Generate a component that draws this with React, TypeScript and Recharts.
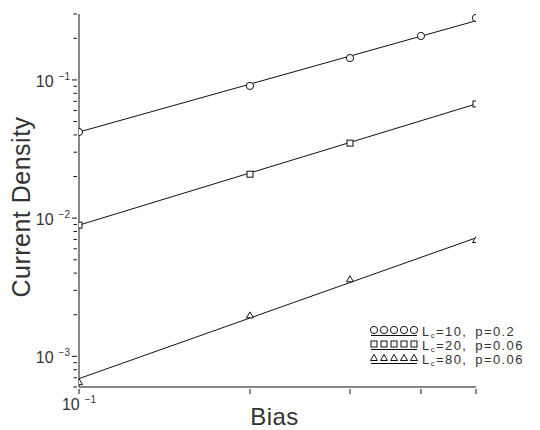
import React from 'react'
import { ComposedChart, Line, Scatter, XAxis, YAxis, Label } from 'recharts'

// bias values (V) where the simulation was run
const biasLc10 = [0.1, 0.2, 0.3, 0.4, 0.5]
const densityLc10 = [0.042, 0.0905, 0.144, 0.208, 0.281]

const biasLc20 = [0.1, 0.2, 0.3, 0.5]
const densityLc20 = [0.0089, 0.0208, 0.0349, 0.067]

const biasLc80 = [0.1, 0.2, 0.3, 0.5]
const densityLc80 = [0.00065, 0.00198, 0.00361, 0.00694]

// power-law fits, evaluated at the ends of the bias range
const fitBias = [0.1, 0.5]
const fitLc10 = [0.042, 0.268]
const fitLc20 = [0.0089, 0.067]
const fitLc80 = [0.00069, 0.0072]

const xTicks = [0.1, 0.2, 0.3, 0.4, 0.5]
const yTicks = [
  0.0006, 0.0007, 0.0008, 0.0009,
  0.001, 0.002, 0.003, 0.004, 0.005, 0.006, 0.007, 0.008, 0.009,
  0.01, 0.02, 0.03, 0.04, 0.05, 0.06, 0.07, 0.08, 0.09,
  0.1, 0.2, 0.3,
]

const legendRows = [
  { shape: 'circle', lc: '10', p: '0.2' },
  { shape: 'square', lc: '20', p: '0.06' },
  { shape: 'triangle', lc: '80', p: '0.06' },
]

const FONT = '"Liberation Sans", Arial, sans-serif'
const INK = '#111'

const toPoints = (xs: number[], ys: number[]) => xs.map((x, i) => ({ x, y: ys[i] }))

const isDecade = (v: number) => Math.abs(Math.log10(v) - Math.round(Math.log10(v))) < 1e-6

function Marker({ kind, cx, cy }: { kind: string; cx: number; cy: number }) {
  if (kind === 'circle') {
    return <circle cx={cx} cy={cy} r={3.6} fill="white" stroke={INK} strokeWidth={1} />
  }
  if (kind === 'square') {
    return <rect x={cx - 3} y={cy - 3} width={6} height={6} fill="white" stroke={INK} strokeWidth={1} />
  }
  return (
    <path
      d={`M${cx},${cy - 3.5} L${cx + 3.5},${cy + 2.5} L${cx - 3.5},${cy + 2.5} Z`}
      fill="white"
      stroke={INK}
      strokeWidth={1}
    />
  )
}

function PowerTenLabel({ x, y, anchor, exp }: { x: number; y: number; anchor: 'end' | 'middle'; exp: number }) {
  return (
    <text x={x} y={y} textAnchor={anchor} fontFamily={FONT} fontSize={16} fill="#333">
      10
      <tspan dx={5} dy={-7} fontSize={10}>{`−${Math.abs(exp)}`}</tspan>
    </text>
  )
}

function YTick(props: any) {
  const { x, y, payload } = props
  const major = isDecade(payload.value)
  return (
    <g>
      <line x1={x - (major ? 5 : 3.5)} x2={x} y1={y} y2={y} stroke={INK} strokeWidth={1} />
      {major && <PowerTenLabel x={x - 7} y={y + 7} anchor="end" exp={Math.round(Math.log10(payload.value))} />}
    </g>
  )
}

function XTick(props: any) {
  const { x, y, payload } = props
  return (
    <g>
      <line x1={x} x2={x} y1={y} y2={y + 5} stroke={INK} strokeWidth={1} />
      {payload.value === 0.1 && <PowerTenLabel x={x} y={y + 21} anchor="middle" exp={-1} />}
    </g>
  )
}

// legend drawn as its own small svg in the lower right corner
function CurveLegend() {
  return (
    <svg
      width={170}
      height={48}
      style={{ position: 'absolute', left: 368, top: 322, overflow: 'visible' }}
    >
      {legendRows.map((row, r) => {
        const cy = 9 + r * 14
        return (
          <g key={row.lc}>
            {[0, 1, 2, 3, 4].map(i => (
              <Marker key={i} kind={row.shape} cx={6 + i * 10} cy={cy - 1} />
            ))}
            <line x1={3} x2={49} y1={cy + 4.5} y2={cy + 4.5} stroke={INK} strokeWidth={1} />
            <text x={54} y={cy + 5} fontFamily={FONT} fontSize={13} letterSpacing={1.4} fill="#333">
              L
              <tspan fontSize={8} dy={2}>c</tspan>
              <tspan dy={-2}>{`=${row.lc},`}</tspan>
              <tspan dx={8}>{`p=${row.p}`}</tspan>
            </text>
          </g>
        )
      })}
    </svg>
  )
}

export default function App() {
  return (
    <div style={{ position: 'absolute', left: 0, top: 0, width: 540, height: 430, background: 'white' }}>
      <ComposedChart width={540} height={430} margin={{ top: 14, right: 64, bottom: 0, left: 0 }}>
        <XAxis
          dataKey="x"
          type="number"
          scale="log"
          domain={[0.1, 0.5]}
          ticks={xTicks}
          allowDataOverflow
          height={43}
          stroke={INK}
          tickSize={0}
          tickLine={false}
          tick={<XTick />}
          interval={0}
        >
          <Label
            content={(p: any) => (
              <text
                x={p.viewBox.x + p.viewBox.width / 2 - 3}
                y={p.viewBox.y + 38}
                textAnchor="middle"
                fontFamily={FONT}
                fontSize={24}
                letterSpacing={0.5}
                fill="#333"
              >
                Bias
              </text>
            )}
          />
        </XAxis>
        <YAxis
          dataKey="y"
          type="number"
          scale="log"
          domain={[0.0006, 0.3]}
          ticks={yTicks}
          allowDataOverflow
          width={79}
          stroke={INK}
          tickSize={0}
          tickLine={false}
          tick={<YTick />}
          interval={0}
        >
          <Label
            content={() => (
              <text
                x={21}
                y={207}
                transform="rotate(-90 21 207)"
                textAnchor="middle"
                dominantBaseline="central"
                fontFamily={FONT}
                fontSize={25}
                letterSpacing={0.5}
                fill="#333"
              >
                Current Density
              </text>
            )}
          />
        </YAxis>

        <Line data={toPoints(fitBias, fitLc10)} dataKey="y" type="linear" stroke={INK} strokeWidth={1} dot={false} isAnimationActive={false} />
        <Line data={toPoints(fitBias, fitLc20)} dataKey="y" type="linear" stroke={INK} strokeWidth={1} dot={false} isAnimationActive={false} />
        <Line data={toPoints(fitBias, fitLc80)} dataKey="y" type="linear" stroke={INK} strokeWidth={1} dot={false} isAnimationActive={false} />

        <Scatter data={toPoints(biasLc10, densityLc10)} dataKey="y" isAnimationActive={false} shape={(p: any) => <Marker kind="circle" cx={p.cx} cy={p.cy} />} />
        <Scatter data={toPoints(biasLc20, densityLc20)} dataKey="y" isAnimationActive={false} shape={(p: any) => <Marker kind="square" cx={p.cx} cy={p.cy} />} />
        <Scatter data={toPoints(biasLc80, densityLc80)} dataKey="y" isAnimationActive={false} shape={(p: any) => <Marker kind="triangle" cx={p.cx} cy={p.cy} />} />
      </ComposedChart>
      <CurveLegend />
    </div>
  )
}
